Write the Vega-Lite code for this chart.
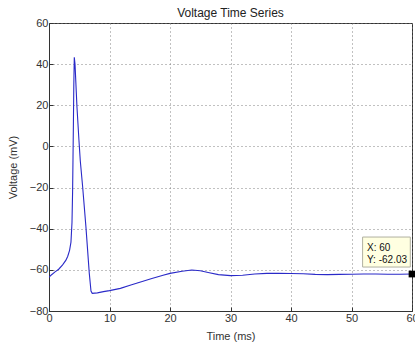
{
  "$schema": "https://vega.github.io/schema/vega-lite/v6.json",
  "autosize": "none",
  "width": 363,
  "height": 288,
  "padding": {"left": 49, "top": 23, "right": 3, "bottom": 36},
  "background": "white",
  "config": {
    "font": "Liberation Sans",
    "view": {"stroke": "#333333", "strokeWidth": 1},
    "axis": {
      "labelFont": "Liberation Sans",
      "titleFont": "Liberation Sans",
      "labelFontSize": 11,
      "titleFontSize": 11,
      "titleFontWeight": "normal",
      "labelColor": "#333333",
      "titleColor": "#333333",
      "domainColor": "#333333",
      "tickColor": "#333333",
      "tickSize": -4,
      "labelFlush": false,
      "labelOverlap": false,
      "labelBound": false,
      "grid": true,
      "gridColor": "#777777",
      "gridDash": [1, 3],
      "gridOpacity": 0.9
    }
  },
  "title": {
    "text": "Voltage Time Series",
    "font": "Liberation Sans",
    "fontSize": 12,
    "fontWeight": "normal",
    "color": "#222222",
    "offset": -3
  },
  "datasets": {
    "trace": [
      {"t": 0, "v": -63.6},
      {"t": 0.33, "v": -62.6},
      {"t": 1.0, "v": -61.0},
      {"t": 1.6, "v": -59.7},
      {"t": 2.25, "v": -57.6},
      {"t": 2.8, "v": -55.3},
      {"t": 3.1, "v": -53.4},
      {"t": 3.4, "v": -50.5},
      {"t": 3.63, "v": -46.5},
      {"t": 3.8, "v": -37},
      {"t": 3.9, "v": -22},
      {"t": 3.97, "v": -5},
      {"t": 4.03, "v": 10},
      {"t": 4.1, "v": 30},
      {"t": 4.18, "v": 43.3},
      {"t": 4.3, "v": 40},
      {"t": 4.62, "v": 19.3},
      {"t": 4.95, "v": 3},
      {"t": 5.17, "v": -7},
      {"t": 5.56, "v": -19.6},
      {"t": 6.1, "v": -39},
      {"t": 6.66, "v": -61.7},
      {"t": 6.94, "v": -70.3},
      {"t": 7.15, "v": -71.4},
      {"t": 8.0, "v": -71.2},
      {"t": 9.0, "v": -70.6},
      {"t": 10.0, "v": -70.1},
      {"t": 11.8, "v": -69.0},
      {"t": 13.4, "v": -67.5},
      {"t": 15.0, "v": -66.0},
      {"t": 17.0, "v": -64.2},
      {"t": 19.0, "v": -62.5},
      {"t": 20.0, "v": -61.7},
      {"t": 22.0, "v": -60.7},
      {"t": 23.6, "v": -60.1},
      {"t": 25.0, "v": -60.4},
      {"t": 26.5, "v": -61.4},
      {"t": 28.0, "v": -62.3},
      {"t": 30.0, "v": -62.8},
      {"t": 32.0, "v": -62.6},
      {"t": 34.0, "v": -62.0},
      {"t": 36.0, "v": -61.7},
      {"t": 38.0, "v": -61.7},
      {"t": 40.0, "v": -61.8},
      {"t": 42.0, "v": -61.9},
      {"t": 44.0, "v": -62.2},
      {"t": 46.0, "v": -62.3},
      {"t": 48.0, "v": -62.2},
      {"t": 50.0, "v": -62.1},
      {"t": 52.0, "v": -62.0},
      {"t": 54.0, "v": -62.0},
      {"t": 56.0, "v": -62.1},
      {"t": 58.0, "v": -62.1},
      {"t": 60.0, "v": -62.03}
    ],
    "tip": [
      {"t": 60, "v": -62.03}
    ]
  },
  "layer": [
    {
      "data": {"name": "trace"},
      "mark": {"type": "line", "color": "#2a2ac8", "strokeWidth": 1.1, "clip": true},
      "encoding": {
        "x": {
          "field": "t", "type": "quantitative",
          "scale": {"domain": [0, 60], "nice": false, "zero": false},
          "axis": {"title": "Time (ms)", "values": [0, 10, 20, 30, 40, 50, 60], "labelPadding": 5, "titlePadding": 7}
        },
        "y": {
          "field": "v", "type": "quantitative",
          "scale": {"domain": [-80, 60], "nice": false, "zero": false},
          "axis": {"title": "Voltage (mV)", "values": [-80, -60, -40, -20, 0, 20, 40, 60], "labelPadding": 5, "titlePadding": 11}
        }
      }
    },
    {
      "data": {"name": "tip"},
      "mark": {"type": "rect", "fill": "#ffffe1", "stroke": "#b0b0a0", "strokeWidth": 1, "xOffset": -49.4, "x2Offset": -1.7, "yOffset": -37, "y2Offset": -7},
      "encoding": {
        "x": {"field": "t", "type": "quantitative"},
        "x2": {"field": "t"},
        "y": {"field": "v", "type": "quantitative"},
        "y2": {"field": "v"}
      }
    },
    {
      "data": {"name": "tip"},
      "mark": {"type": "text", "align": "left", "baseline": "middle", "dx": -45, "dy": -26, "fontSize": 10, "font": "Liberation Sans", "color": "#111111"},
      "encoding": {
        "x": {"field": "t", "type": "quantitative"},
        "y": {"field": "v", "type": "quantitative"},
        "text": {"value": "X: 60"}
      }
    },
    {
      "data": {"name": "tip"},
      "mark": {"type": "text", "align": "left", "baseline": "middle", "dx": -45, "dy": -14.5, "fontSize": 10, "font": "Liberation Sans", "color": "#111111"},
      "encoding": {
        "x": {"field": "t", "type": "quantitative"},
        "y": {"field": "v", "type": "quantitative"},
        "text": {"value": "Y: -62.03"}
      }
    },
    {
      "data": {"name": "tip"},
      "mark": {"type": "point", "shape": "square", "filled": true, "color": "#000000", "size": 45, "opacity": 1},
      "encoding": {
        "x": {"field": "t", "type": "quantitative"},
        "y": {"field": "v", "type": "quantitative"}
      }
    }
  ]
}
